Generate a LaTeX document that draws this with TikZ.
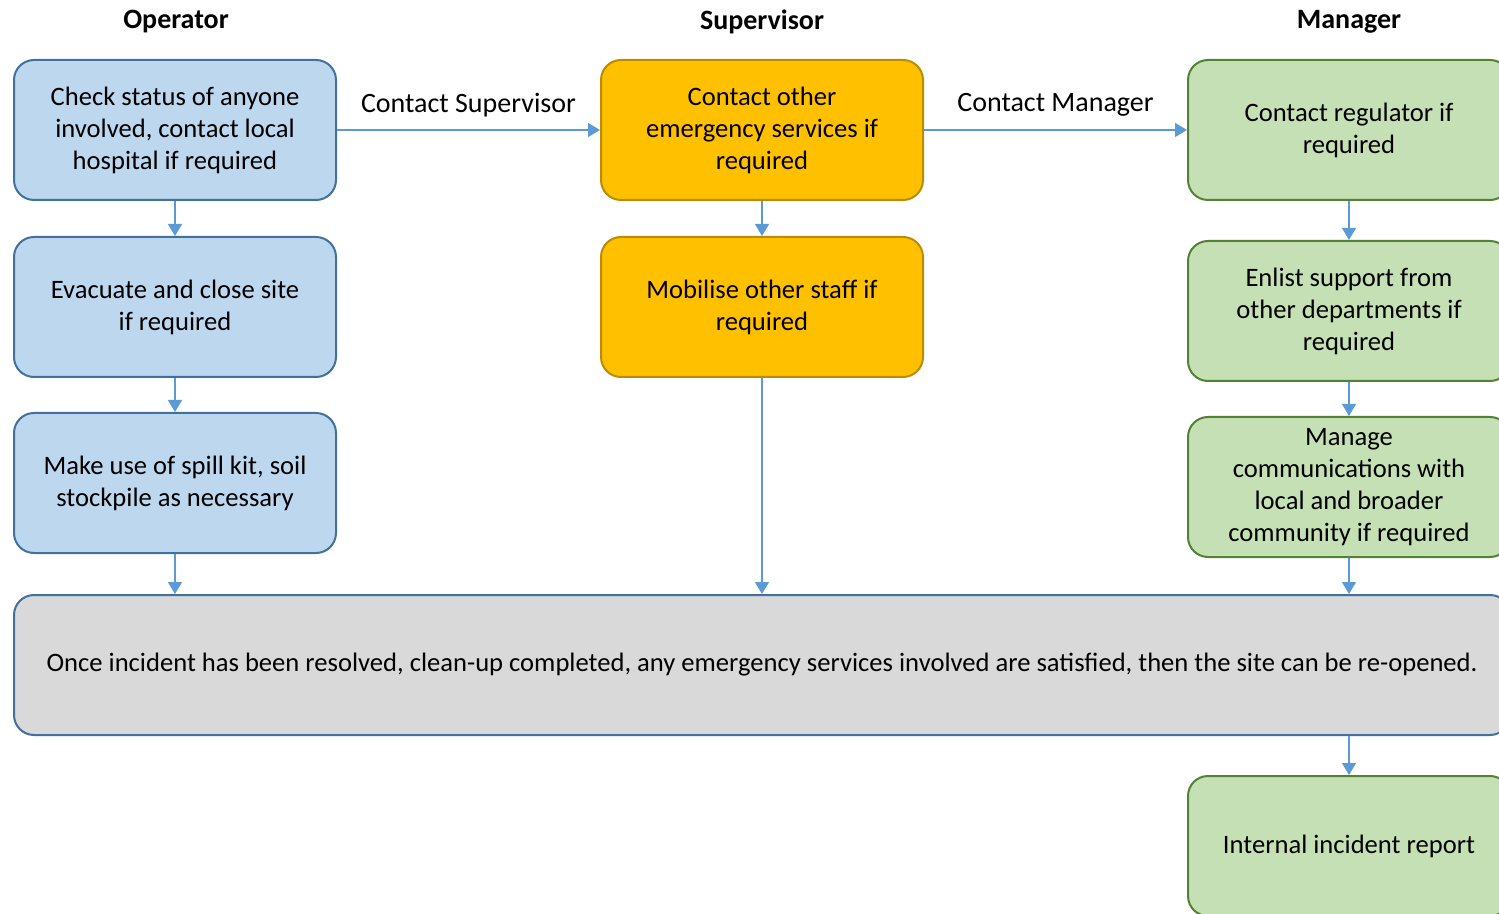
\documentclass[tikz,border=0pt]{standalone}
\usepackage{fontspec}
\setmainfont{Carlito}
\usepackage{xcolor}
\usetikzlibrary{arrows.meta,positioning}

\definecolor{opfill}{HTML}{BDD7EE}
\definecolor{opline}{HTML}{41719C}
\definecolor{supfill}{HTML}{FFC000}
\definecolor{supline}{HTML}{BC8C00}
\definecolor{mgrfill}{HTML}{C5E0B4}
\definecolor{mgrline}{HTML}{548235}
\definecolor{endfill}{HTML}{D9D9D9}
\definecolor{flowblue}{HTML}{5B9BD5}

\begin{document}
\begin{tikzpicture}[x=0.5pt, y=-0.5pt,
    box/.style={rounded corners=10pt, line width=1pt, minimum width=161pt, minimum height=70pt, align=center, font=\fontsize{13.3}{16}\selectfont},
    opbox/.style={box, fill=opfill, draw=opline},
    supbox/.style={box, fill=supfill, draw=supline},
    mgrbox/.style={box, fill=mgrfill, draw=mgrline},
    endbox/.style={box, fill=endfill, draw=opline, minimum width=748pt},
    flow/.style={draw=flowblue, line width=0.6pt, -{Triangle[width=7pt,length=6pt]}},
    flowlabel/.style={above=3pt, black, font=\fontsize{14}{16}\selectfont},
    head/.style={font=\bfseries\fontsize{14}{16}\selectfont}]
\useasboundingbox (0,0) rectangle (1499,914);
\clip (0,0) rectangle (1499,914);

% column heads
\node[head] (hop) at (176,22) {Operator};
\node[head] (hsup) at (762,22) {Supervisor};
\node[head] (hmgr) at (1349,22) {Manager};

% operator
\node[opbox] (op1) at (175,130) {Check status of anyone\\involved, contact local\\hospital if required};
\node[opbox] (op2) at (175,307) {Evacuate and close site\\if required};
\node[opbox] (op3) at (175,483) {Make use of spill kit, soil\\stockpile as necessary};

% supervisor
\node[supbox] (sup1) at (762,130) {Contact other\\emergency services if\\required};
\node[supbox] (sup2) at (762,307) {Mobilise other staff if\\required};

% manager
\node[mgrbox] (mgr1) at (1349,130) {Contact regulator if\\required};
\node[mgrbox] (mgr2) at (1349,311) {Enlist support from\\other departments if\\required};
\node[mgrbox] (mgr3) at (1349,487) {Manage\\communications with\\local and broader\\community if required};

% end
\node[endbox] (done) at (762,665) {Once incident has been resolved, clean-up completed, any emergency services involved are satisfied, then the site can be re-opened.};
\node[mgrbox] (report) at (1349,846) {Internal incident report};

% connectors
\draw[flow] (op1) -- node[flowlabel] {Contact Supervisor} (sup1);
\draw[flow] (sup1) -- node[flowlabel] {Contact Manager} (mgr1);
\draw[flow] (op1) -- (op2);
\draw[flow] (op2) -- (op3);
\draw[flow] (op3) -- (op3 |- done.north);
\draw[flow] (sup1) -- (sup2);
\draw[flow] (sup2) -- (sup2 |- done.north);
\draw[flow] (mgr1) -- (mgr2);
\draw[flow] (mgr2) -- (mgr3);
\draw[flow] (mgr3) -- (mgr3 |- done.north);
\draw[flow] (done.south -| report) -- (report);
\end{tikzpicture}
\end{document}
